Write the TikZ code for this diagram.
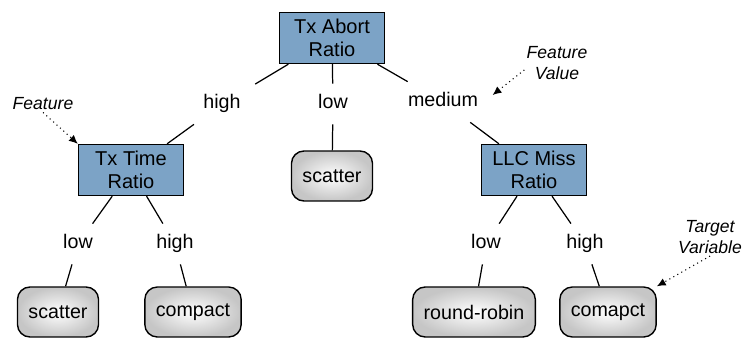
\documentclass[tikz,border=0pt]{standalone}
\usepackage{fontspec}
\setmainfont{Liberation Sans}
\usetikzlibrary{arrows.meta}
\usetikzlibrary{calc}
\usetikzlibrary{positioning}
\definecolor{featblue}{RGB}{124,163,198}

\begin{document}
\begin{tikzpicture}[x=0.02cm, y=-0.02cm, line width=0.7pt,
        feat/.style={draw, line width=0.8pt, fill=featblue, align=center, minimum width=2.1cm, minimum height=1.02cm, inner sep=1pt, font=\fontsize{11.4}{13}\selectfont},
        leaf/.style={draw, line width=0.8pt, rounded corners=0.25cm, shading=radial, inner color=white, outer color=gray!45, minimum height=1cm, inner xsep=0.22cm, font=\fontsize{11.2}{13}\selectfont},
        val/.style={inner xsep=0.28cm, inner ysep=0.22cm, text height=0.27cm, text depth=0.08cm, font=\fontsize{11.2}{13}\selectfont},
        note/.style={align=center, inner sep=1pt, font=\fontsize{10}{12}\selectfont\itshape},
        hint/.style={dotted, line width=0.6pt, -{Latex[length=5pt,width=4.5pt]}}]
        \useasboundingbox (0,0) rectangle (744,338);

        \node[feat] (abort) at (332,38) {Tx Abort\\Ratio};
        \node[val] (high) at (222,104) {high};
        \node[val] (low) at (333,104) {low};
        \node[val] (medium) at (443,102) {medium};

        \node[feat] (ttime) at (131,170) {Tx Time\\Ratio};
        \node[leaf] (scatter) at (332,176) {scatter};
        \node[feat] (llc) at (534,170) {LLC Miss\\Ratio};

        \node[val] (tlow) at (78,244) {low};
        \node[val] (thigh) at (175,244) {high};
        \node[val] (llow) at (486,244) {low};
        \node[val] (lhigh) at (585,244) {high};

        \node[leaf] (tscatter) at (58,312) {scatter};
        \node[leaf] (tcompact) at (193,312) {compact};
        \node[leaf] (lrobin) at (474,312) {round-robin};
        \node[leaf] (lcompact) at (608,312) {comapct};

        \node[note] (featlbl) at (43,104) {Feature};
        \node[note] (vallbl) at (557,63) {Feature\\Value};
        \node[note] (targlbl) at (710,237) {Target\\Variable};

        \draw (abort) -- (high) -- (ttime);
        \draw (abort) -- (low) -- (scatter);
        \draw (abort) -- (medium) -- (llc);
        \draw (ttime) -- (tlow) -- (tscatter);
        \draw (ttime) -- (thigh) -- (tcompact);
        \draw (llc) -- (llow) -- (lrobin);
        \draw (llc) -- (lhigh) -- (lcompact);

        \draw[hint] (featlbl.south) -- (ttime.north west);
        \draw[hint] (vallbl.192) -- (medium.8);
        \draw[hint] (targlbl.south) -- (lcompact.north east);
\end{tikzpicture}
\end{document}
